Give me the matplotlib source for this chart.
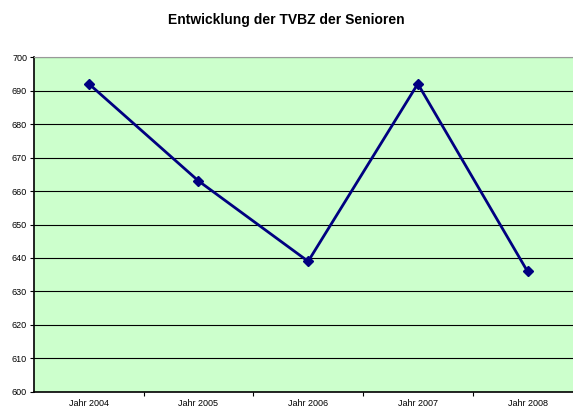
import matplotlib
matplotlib.use("Agg")
import matplotlib.pyplot as plt
import numpy as np

# ── data ────────────────────────────────────────────────────────────────
years = ["Jahr 2004", "Jahr 2005", "Jahr 2006", "Jahr 2007", "Jahr 2008"]
tvbz = [692, 663, 639, 692, 636]

BG = "#CCFFCC"
NAVY = "#000080"

plt.rcParams.update({"font.family": ["Liberation Sans", "DejaVu Sans"]})

fig = plt.figure(figsize=(5.73, 4.09), dpi=100)
ax = fig.add_axes([0.0593, 0.0416, 0.957, 0.819])
ax.set_facecolor(BG)

x = np.arange(len(years))
ax.plot(x, tvbz, color=NAVY, lw=2, marker="D", markersize=5, zorder=3)

ax.set_xlim(-0.5, len(years) - 0.5)
ax.set_ylim(600, 700)
ax.set_yticks(np.arange(600, 701, 10))
ax.tick_params(axis="y", labelsize=6.5, length=3, width=0.8, pad=2)
ax.yaxis.grid(True, color="black", lw=0.8)
ax.set_axisbelow(True)

# category labels centred, ticks on boundaries
ax.set_xticks(x)
ax.set_xticklabels(years, fontsize=6.5)
ax.tick_params(axis="x", which="major", length=0, pad=5)
ax.set_xticks(np.arange(0.5, len(years) - 0.5, 1), minor=True)
ax.tick_params(axis="x", which="minor", length=3, width=0.8)

ax.spines["top"].set_color("#999999")
ax.spines["right"].set_visible(False)
ax.spines["left"].set_linewidth(1.2)
ax.spines["bottom"].set_linewidth(1.2)

fig.text(0.5, 0.952, "Entwicklung der TVBZ der Senioren", ha="center",
         va="center", fontsize=10, fontweight="bold")

fig.savefig("out.png", dpi=100)
